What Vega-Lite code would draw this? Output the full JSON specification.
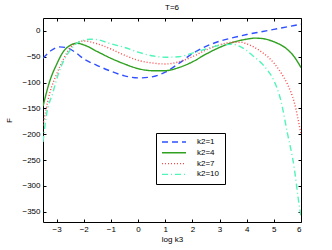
{
  "$schema": "https://vega.github.io/schema/vega-lite/v6.json",
  "width": 258,
  "height": 204,
  "autosize": "none",
  "padding": {"left": 43, "top": 18, "right": 31, "bottom": 28},
  "background": "white",
  "title": {"text": "T=6", "fontSize": 8, "fontWeight": "normal", "font": "Liberation Sans", "offset": 6, "color": "black"},
  "config": {
    "view": {"stroke": "black", "strokeWidth": 1},
    "axis": {"domain": false, "grid": false, "tickSize": -3, "tickColor": "black", "labelFont": "Liberation Sans", "labelFontSize": 8, "labelColor": "black", "titleFont": "Liberation Sans", "titleFontSize": 8, "titleFontWeight": "normal", "titleColor": "black"}
  },
  "data": {"values": [
    {"k":"k2=1","x":-3.5,"F":-53},{"k":"k2=1","x":-3.2,"F":-38},{"k":"k2=1","x":-2.9,"F":-31},{"k":"k2=1","x":-2.6,"F":-33},{"k":"k2=1","x":-2.3,"F":-42},{"k":"k2=1","x":-2.0,"F":-54},{"k":"k2=1","x":-1.5,"F":-67},{"k":"k2=1","x":-1.0,"F":-78},{"k":"k2=1","x":-0.5,"F":-87},{"k":"k2=1","x":0,"F":-91},{"k":"k2=1","x":0.5,"F":-89},{"k":"k2=1","x":1.0,"F":-80},{"k":"k2=1","x":1.5,"F":-63},{"k":"k2=1","x":2.0,"F":-44},{"k":"k2=1","x":2.5,"F":-30},{"k":"k2=1","x":3.0,"F":-20},{"k":"k2=1","x":3.5,"F":-13},{"k":"k2=1","x":4.0,"F":-7},{"k":"k2=1","x":4.5,"F":-2},{"k":"k2=1","x":5.0,"F":3},{"k":"k2=1","x":5.5,"F":8},{"k":"k2=1","x":6.0,"F":13},
    {"k":"k2=4","x":-3.5,"F":-146},{"k":"k2=4","x":-3.25,"F":-97},{"k":"k2=4","x":-3.0,"F":-65},{"k":"k2=4","x":-2.75,"F":-40},{"k":"k2=4","x":-2.5,"F":-28},{"k":"k2=4","x":-2.25,"F":-24},{"k":"k2=4","x":-2.0,"F":-27},{"k":"k2=4","x":-1.5,"F":-40},{"k":"k2=4","x":-1.0,"F":-53},{"k":"k2=4","x":-0.5,"F":-64},{"k":"k2=4","x":0,"F":-73},{"k":"k2=4","x":0.5,"F":-77},{"k":"k2=4","x":1.0,"F":-77},{"k":"k2=4","x":1.5,"F":-71},{"k":"k2=4","x":2.0,"F":-60},{"k":"k2=4","x":2.5,"F":-45},{"k":"k2=4","x":3.0,"F":-32},{"k":"k2=4","x":3.5,"F":-22},{"k":"k2=4","x":4.0,"F":-16},{"k":"k2=4","x":4.3,"F":-14},{"k":"k2=4","x":4.6,"F":-15},{"k":"k2=4","x":5.0,"F":-21},{"k":"k2=4","x":5.5,"F":-36},{"k":"k2=4","x":5.75,"F":-50},{"k":"k2=4","x":6.0,"F":-71},
    {"k":"k2=7","x":-3.5,"F":-183},{"k":"k2=7","x":-3.25,"F":-120},{"k":"k2=7","x":-3.0,"F":-84},{"k":"k2=7","x":-2.75,"F":-55},{"k":"k2=7","x":-2.5,"F":-33},{"k":"k2=7","x":-2.25,"F":-23},{"k":"k2=7","x":-2.0,"F":-19.5},{"k":"k2=7","x":-1.5,"F":-25},{"k":"k2=7","x":-1.0,"F":-35},{"k":"k2=7","x":-0.5,"F":-47},{"k":"k2=7","x":0,"F":-57},{"k":"k2=7","x":0.5,"F":-62},{"k":"k2=7","x":1.0,"F":-64},{"k":"k2=7","x":1.5,"F":-60},{"k":"k2=7","x":2.0,"F":-50},{"k":"k2=7","x":2.5,"F":-37},{"k":"k2=7","x":3.0,"F":-27},{"k":"k2=7","x":3.5,"F":-22},{"k":"k2=7","x":3.8,"F":-22},{"k":"k2=7","x":4.0,"F":-25},{"k":"k2=7","x":4.5,"F":-39},{"k":"k2=7","x":5.0,"F":-62},{"k":"k2=7","x":5.25,"F":-80},{"k":"k2=7","x":5.5,"F":-103},{"k":"k2=7","x":5.75,"F":-138},{"k":"k2=7","x":6.0,"F":-200},
    {"k":"k2=10","x":-3.5,"F":-215},{"k":"k2=10","x":-3.38,"F":-165},{"k":"k2=10","x":-3.14,"F":-120},{"k":"k2=10","x":-2.9,"F":-78},{"k":"k2=10","x":-2.6,"F":-45},{"k":"k2=10","x":-2.3,"F":-26},{"k":"k2=10","x":-2.0,"F":-18},{"k":"k2=10","x":-1.75,"F":-16},{"k":"k2=10","x":-1.5,"F":-17},{"k":"k2=10","x":-1.0,"F":-25},{"k":"k2=10","x":-0.5,"F":-32},{"k":"k2=10","x":0,"F":-41},{"k":"k2=10","x":0.5,"F":-48},{"k":"k2=10","x":1.0,"F":-51},{"k":"k2=10","x":1.5,"F":-50},{"k":"k2=10","x":2.0,"F":-43},{"k":"k2=10","x":2.5,"F":-35},{"k":"k2=10","x":3.0,"F":-28},{"k":"k2=10","x":3.5,"F":-26},{"k":"k2=10","x":3.75,"F":-30},{"k":"k2=10","x":4.0,"F":-38},{"k":"k2=10","x":4.25,"F":-49},{"k":"k2=10","x":4.5,"F":-60},{"k":"k2=10","x":4.75,"F":-75},{"k":"k2=10","x":5.0,"F":-96},{"k":"k2=10","x":5.25,"F":-133},{"k":"k2=10","x":5.5,"F":-198},{"k":"k2=10","x":5.75,"F":-265},{"k":"k2=10","x":5.9,"F":-325},{"k":"k2=10","x":6.0,"F":-360}
  ]},
  "layer": [
    {
      "mark": {"type": "line", "strokeWidth": 1.4, "interpolate": "monotone", "clip": true},
      "encoding": {
        "x": {"field": "x", "type": "quantitative", "scale": {"domain": [-3.5, 6], "nice": false, "zero": false}, "axis": {"title": "log k3", "values": [-3,-2,-1,0,1,2,3,4,5,6], "labelPadding": 6, "titlePadding": 2}},
        "y": {"field": "F", "type": "quantitative", "scale": {"domain": [-370, 25], "nice": false, "zero": false}, "axis": {"title": "F", "values": [0,-50,-100,-150,-200,-250,-300,-350], "labelPadding": 6, "titlePadding": 8}},
        "color": {"field": "k", "type": "nominal", "scale": {"domain": ["k2=1","k2=4","k2=7","k2=10"], "range": ["#3050ff","#30a020","#ff4848","#50f5b8"]},
          "legend": {"title": null, "orient": "none", "legendX": 113, "legendY": 115, "symbolType": "M-4,0H4", "symbolSize": 36, "symbolOffset": 9, "symbolStrokeWidth": 1.4, "labelFont": "Liberation Sans", "labelFontSize": 8, "labelColor": "black", "strokeColor": "black", "fillColor": "white", "padding": 5, "rowPadding": 2.8, "labelOffset": 19}},
        "strokeDash": {"field": "k", "type": "nominal", "scale": {"domain": ["k2=1","k2=4","k2=7","k2=10"], "range": [[6,4],[1,0],[1,2],[6,3,1,3]]}, "legend": {"title": null, "orient": "none", "legendX": 113, "legendY": 115}}
      }
    },
    {
      "mark": {"type": "line", "opacity": 0},
      "encoding": {
        "x": {"field": "x", "type": "quantitative", "axis": {"orient": "top", "labels": false, "title": null, "values": [-3,-2,-1,0,1,2,3,4,5,6]}},
        "y": {"field": "F", "type": "quantitative", "axis": {"orient": "right", "labels": false, "title": null, "values": [0,-50,-100,-150,-200,-250,-300,-350]}}
      }
    }
  ],
  "resolve": {"axis": {"x": "independent", "y": "independent"}}
}
